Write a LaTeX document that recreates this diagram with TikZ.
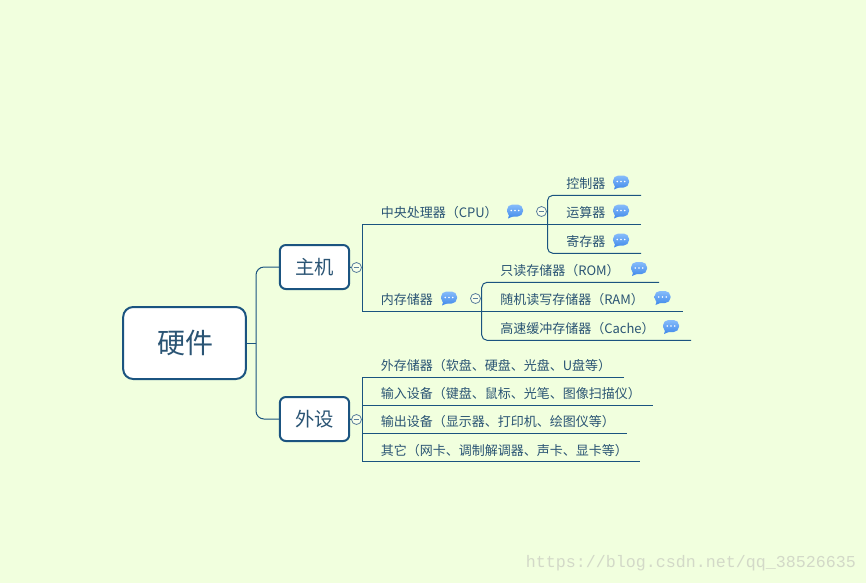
\documentclass[tikz,border=0pt]{standalone}
\usepackage{fontspec}
\setmainfont{Noto Sans CJK SC}
\newfontfamily\wmfont{Liberation Mono}
\definecolor{bgc}{HTML}{F1FFDE}
\definecolor{linec}{HTML}{1B5480}
\definecolor{txtc}{HTML}{2A5474}
\definecolor{circc}{HTML}{5B7F9C}
\definecolor{wmc}{HTML}{D3D9C8}
\definecolor{notetop}{HTML}{86BCFB}
\definecolor{notebot}{HTML}{4A90EC}
\tikzset{
  conn/.style={draw=linec,line width=0.75pt},
  rootbox/.style={draw=linec,fill=white,line width=1.5pt,rounded corners=7.5pt,minimum width=92pt,minimum height=54pt,inner sep=0pt,text=txtc,font=\fontsize{21}{24}\selectfont},
  mainbox/.style={draw=linec,fill=white,line width=1.5pt,rounded corners=4.5pt,minimum width=52pt,minimum height=33pt,inner sep=0pt,text=txtc,font=\fontsize{14.5}{17}\selectfont},
  topic/.style={anchor=west,inner sep=0pt,yshift=-0.75pt,text=txtc,font=\fontsize{9.75}{12}\selectfont,text height=8pt,text depth=2pt},
  fold/.style={circle,draw=circc,fill=bgc!60!white,line width=0.6pt,minimum size=7.5pt,inner sep=0pt,
    path picture={\draw[circc,line width=0.6pt] ([xshift=-2.2pt]path picture bounding box.center) -- ([xshift=2.2pt]path picture bounding box.center);}},
  note/.pic={
    \fill[notebot] (-5.5,3) -- (-7,8) -- (-1,5.5) -- cycle;
    \shade[top color=notetop,bottom color=notebot,rounded corners=4pt] (-8,-6) rectangle (8,6);
    \fill[white] (-3.7,0) circle (0.85) (0,0) circle (0.85) (3.7,0) circle (0.85);
  },
}
\begin{document}
\begin{tikzpicture}[x=0.75pt,y=-0.75pt]
\useasboundingbox (0,0) rectangle (866,583);
\fill[bgc] (0,0) rectangle (866,583);

% junctions and free ends
\coordinate (tr) at (256,343);
\coordinate (mainfork) at (362,267.5);
\coordinate (perfork) at (362,419.5);
\coordinate (bCPU) at (362,224);
\coordinate (bMEM) at (362,311);
\coordinate (eCPU) at (641,224);
\coordinate (eMEM) at (683,311);
\coordinate (c1) at (641,195.3);
\coordinate (c1c) at (547.5,195.3);
\coordinate (c3) at (641,253.3);
\coordinate (c3c) at (547.5,253.3);
\coordinate (m1) at (659,282.3);
\coordinate (m1c) at (481.7,282.3);
\coordinate (m3) at (691,340.3);
\coordinate (m3c) at (481.7,340.3);
\coordinate (p1s) at (362,377.3);
\coordinate (p1e) at (624,377.3);
\coordinate (p2s) at (362,405.3);
\coordinate (p2e) at (653,405.3);
\coordinate (p3s) at (362,433.3);
\coordinate (p3e) at (627,433.3);
\coordinate (p4s) at (362,461.3);
\coordinate (p4e) at (640,461.3);

% boxes
\node[rootbox] (root) at (184.5,343) {\hspace{1.5pt}\raisebox{-1.6pt}{硬件}};
\node[mainbox] (main) at (314.5,267) {主机};
\node[mainbox] (per) at (314.5,419) {外设};
\node[fold] (fmain) at (356.5,267.5) {};
\node[fold] (fper) at (356.5,419.5) {};
\node[fold] (fcpu) at (541.5,211.5) {};
\node[fold] (fmem) at (475.5,298.5) {};

% connectors
\draw[conn] (root.east) -- (tr);
\draw[conn,rounded corners=6pt] (main.west) -| (tr);
\draw[conn,rounded corners=6pt] (per.west) -| (tr);
\draw[conn] (main.east) -- (fmain.west);
\draw[conn] (per.east) -- (fper.west);
\draw[conn] (fmain.east) -- (mainfork);
\draw[conn] (fper.east) -- (perfork);
\draw[conn] (eCPU) -- (bCPU) -- (bMEM) -- (eMEM);
\draw[conn,rounded corners=4pt] (c1) -- (c1c) -- (c3c) -- (c3);
\draw[conn,rounded corners=4pt] (m1) -- (m1c) -- (m3c) -- (m3);
\draw[conn] (fcpu.east) -- (fcpu.east -| c1c);
\draw[conn] (fmem.east) -- (fmem.east -| m1c);
\draw[conn] (p1e) -- (p1s) -- (p4s) -- (p4e);
\draw[conn] (p2s) -- (p2e);
\draw[conn] (p3s) -- (p3e);

% topics
\node[topic] (tcpu) at (380.5,212) {中央处理器（CPU）};
\node[topic] (tmem) at (380.5,299) {内存储器};
\node[topic] (t1) at (566,183) {控制器};
\node[topic] (t2) at (566,212) {运算器};
\node[topic] (t3) at (566,241) {寄存器};
\node[topic] (t4) at (500,270) {只读存储器（ROM）};
\node[topic] (t5) at (500,299) {随机读写存储器（RAM）};
\node[topic] (t6) at (500,328) {高速缓冲存储器（Cache）};
\node[topic] (t7) at (380.5,365) {外存储器（软盘、硬盘、光盘、U盘等）};
\node[topic] (t8) at (380.5,393) {输入设备（键盘、鼠标、光笔、图像扫描仪）};
\node[topic] (t9) at (380.5,421) {输出设备（显示器、打印机、绘图仪等）};
\node[topic] (t10) at (380.5,450) {其它（网卡、调制解调器、声卡、显卡等）};

% note icons
\pic at (515,210.5) {note};
\pic at (449,297.5) {note};
\pic at (621,181.5) {note};
\pic at (621,210.5) {note};
\pic at (621,239.5) {note};
\pic at (639,268) {note};
\pic at (662.5,297) {note};
\pic at (671,326) {note};

% watermark
\node[anchor=west,inner sep=0pt,text=wmc,font=\wmfont\fontsize{12.5}{14}\selectfont] (wm) at (525.5,563) {https://blog.csdn.net/qq\_38526635};
\end{tikzpicture}
\end{document}
